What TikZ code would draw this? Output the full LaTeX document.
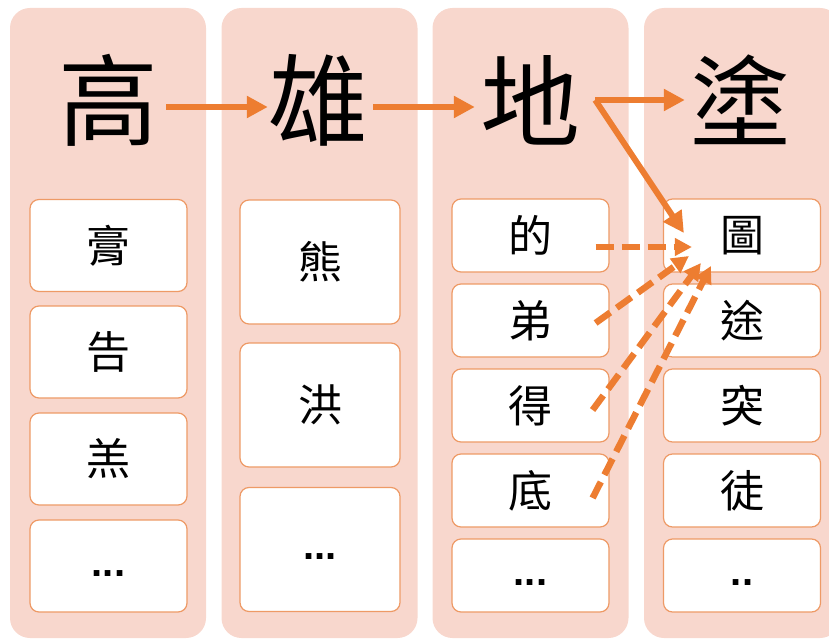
\documentclass[tikz,border=0pt]{standalone}
\usepackage{fontspec}
\setmainfont{Liberation Sans}
\newfontfamily\cjk{Noto Sans CJK TC}
\usetikzlibrary{arrows.meta}
\definecolor{colbg}{HTML}{F8D7CD}
\definecolor{orng}{HTML}{ED7D31}
\definecolor{boxline}{HTML}{EE9A66}
\begin{document}
\begin{tikzpicture}[x=1pt,y=-1pt,
  colbox/.style={fill=colbg, draw=none, rounded corners=20pt, minimum width=196pt, minimum height=630pt, inner sep=0pt},
  bigchar/.style={inner sep=0pt, font=\cjk\fontsize{100}{100}\selectfont},
  cell/.style={draw=boxline, line width=1.2pt, fill=white, rounded corners=9pt, inner sep=0pt, font=\cjk\fontsize{44}{44}\selectfont},
  cellA/.style={cell, minimum width=157pt, minimum height=92pt},
  cellB/.style={cell, minimum width=160pt, minimum height=124pt},
  cellC/.style={cell, minimum width=157pt, minimum height=73pt},
  dotcell/.style={font=\bfseries\fontsize{40}{40}\selectfont, text height=20pt, text depth=0pt},
  arr/.style={draw=orng, line width=6pt, -{Triangle[length=21pt,width=21pt]}},
  darr/.style={draw=orng, line width=6.5pt, dash pattern=on 18pt off 8pt, -{Triangle[length=17pt,width=17pt]}}
]
\useasboundingbox (0,0) rectangle (829,639);
% columns
\node[colbox] (col1) at (108,323) {};
\node[colbox] (col2) at (319.5,323) {};
\node[colbox] (col3) at (530.5,323) {};
\node[colbox] (col4) at (742,323) {};
% big characters
\node[bigchar] (gao) at (108,100) {高};
\node[bigchar] (xiong) at (318,100) {雄};
\node[bigchar] (di) at (530,100) {地};
\node[bigchar] (tu) at (740,100) {塗};
% column 1
\node[cellA] (g1) at (108.5,245.5) {膏};
\node[cellA] (g2) at (108.5,352) {告};
\node[cellA] (g3) at (108.5,459) {羔};
\node[cellA,dotcell] (g4) at (108.5,566) {...};
% column 2
\node[cellB] (x1) at (320,262) {熊};
\node[cellB] (x2) at (320,405) {洪};
\node[cellB,dotcell] (x3) at (320,549.5) {...};
% column 3
\node[cellC] (e1) at (530.5,235.5) {的};
\node[cellC] (e2) at (530.5,320.5) {弟};
\node[cellC] (e3) at (530.5,405.5) {得};
\node[cellC] (e4) at (530.5,490.5) {底};
\node[cellC,dotcell] (e5) at (530.5,575.5) {...};
% column 4
\node[cellC] (t1) at (742,235.5) {圖};
\node[cellC] (t2) at (742,320.5) {途};
\node[cellC] (t3) at (742,405.5) {突};
\node[cellC] (t4) at (742,490.5) {徒};
\node[cellC,dotcell] (t5) at (742,575.5) {..};
% solid arrows
\draw[arr] ([shift={(8,7)}]gao.east) -- ([shift={(0,7)}]xiong.west);
\draw[arr] ([shift={(5,7)}]xiong.east) -- ([shift={(-5,7)}]di.west);
\draw[arr] ([shift={(15,0)}]di.east) -- ([shift={(-5,0)}]tu.west);
\draw[arr] ([shift={(15,0)}]di.east) -- ([shift={(21,-2.5)}]t1.west);
% dashed arrows
\draw[darr] ([shift={(-14,11.5)}]e1.east) -- ([shift={(29,11.5)}]t1.west);
\draw[darr] ([shift={(-14,2.5)}]e2.east) -- ([shift={(26,20.5)}]t1.west);
\draw[darr] ([shift={(-17,4.5)}]e3.east) -- ([shift={(38,27.5)}]t1.west);
\draw[darr] ([shift={(-17,7.5)}]e4.east) -- ([shift={(48,30.5)}]t1.west);
\end{tikzpicture}
\end{document}
